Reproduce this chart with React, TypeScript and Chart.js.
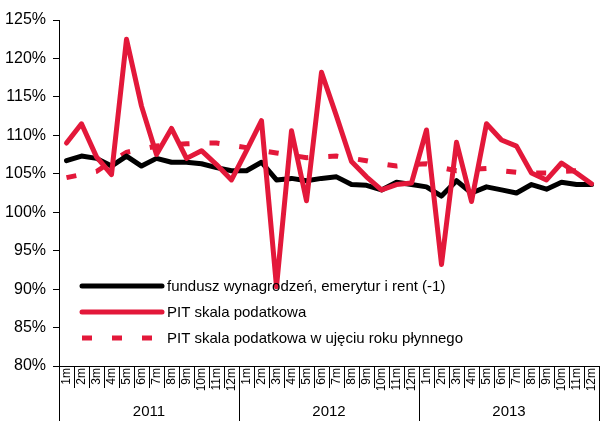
import React, { useEffect, useRef } from 'react';
import { Chart, registerables } from 'chart.js';

Chart.register(...registerables);

const years = ['2011', '2012', '2013'];
const months = ['1m', '2m', '3m', '4m', '5m', '6m', '7m', '8m', '9m', '10m', '11m', '12m'];
const categories = years.flatMap(() => months);

const seriesNames = [
  'fundusz wynagrodzeń, emerytur i rent (-1)',
  'PIT skala podatkowa',
  'PIT skala podatkowa w ujęciu roku płynnego',
];

const fundusz = [
  106.7, 107.3, 107.0, 106.0, 107.3, 106.0, 107.0, 106.5, 106.5, 106.3, 105.8, 105.4,
  105.4, 106.5, 104.2, 104.4, 104.1, 104.4, 104.6, 103.6, 103.5, 102.9, 103.9, 103.6,
  103.3, 102.1, 104.1, 102.5, 103.3, 102.9, 102.5, 103.6, 103.0, 103.9, 103.6, 103.6,
];

const pit = [
  109.0, 111.5, 107.2, 104.9, 122.5, 113.8, 107.5, 110.9, 107.0, 108.0, 106.2, 104.2,
  108.0, 111.9, 90.3, 110.6, 101.5, 118.2, 112.5, 106.6, 104.6, 102.9, 103.6, 103.8,
  110.7, 93.2, 109.1, 101.4, 111.5, 109.4, 108.6, 105.1, 104.2, 106.4, 105.1, 103.7,
];

const pitRolling = [
  104.5, 104.9, 105.3, 106.6, 107.8, 108.2, 108.6, 108.8, 108.9, 109.0, 109.0, 108.7,
  108.4, 108.0, 107.7, 107.4, 107.1, 107.2, 107.3, 107.0, 106.7, 106.3, 106.0, 106.2,
  106.3, 105.8, 105.4, 105.6, 105.7, 105.4, 105.2, 105.1, 105.1, 105.3, 105.4, 104.9,
];

const yMin = 80;
const yMax = 125;
const yStep = 5;

const RED = '#E3183A';
const BLACK = '#000000';
const FONT = "'Liberation Sans', Arial, sans-serif";

const yearAxisPlugin = {
  id: 'yearAxis',
  afterDraw(chart: any) {
    const { ctx, chartArea } = chart;
    const x = chart.scales.x;
    const half = (x.getPixelForValue(1) - x.getPixelForValue(0)) / 2;
    ctx.save();
    ctx.strokeStyle = BLACK;
    ctx.lineWidth = 1;
    ctx.fillStyle = BLACK;
    ctx.font = `15px ${FONT}`;
    ctx.textAlign = 'center';
    ctx.textBaseline = 'middle';
    years.forEach((yr, g) => {
      const start = x.getPixelForValue(g * 12) - half;
      const end = x.getPixelForValue(g * 12 + 11) + half;
      [start, end].forEach((px) => {
        const xx = Math.min(Math.round(px), chart.width - 1) + 0.5;
        ctx.beginPath();
        ctx.moveTo(xx, chartArea.bottom);
        ctx.lineTo(xx, chart.height);
        ctx.stroke();
      });
      ctx.fillText(yr, (start + end) / 2, 412);
    });
    ctx.restore();
  },
};

const legendPlugin = {
  id: 'insideLegend',
  afterDatasetsDraw(chart: any) {
    const { ctx } = chart;
    const rows = [286, 312, 338];
    const x0 = 82;
    const x1 = 162;
    ctx.save();
    chart.data.datasets.forEach((ds: any, i: number) => {
      const yy = rows[i];
      ctx.beginPath();
      ctx.strokeStyle = ds.borderColor;
      ctx.lineWidth = 5;
      ctx.setLineDash(ds.borderDash || []);
      ctx.lineCap = ds.borderDash ? 'butt' : 'round';
      ctx.moveTo(x0, yy);
      ctx.lineTo(x1, yy);
      ctx.stroke();
      ctx.setLineDash([]);
      ctx.fillStyle = BLACK;
      ctx.font = `15px ${FONT}`;
      ctx.textAlign = 'left';
      ctx.textBaseline = 'middle';
      ctx.fillText(ds.label, 167, yy + 1);
    });
    ctx.restore();
  },
};

export default function App() {
  const ref = useRef<HTMLCanvasElement | null>(null);

  useEffect(() => {
    document.body.style.margin = '0';
    const canvas = ref.current;
    if (!canvas) return;
    const chart = new Chart(canvas, {
      type: 'line',
      data: {
        labels: categories,
        datasets: [
          {
            label: seriesNames[0],
            data: fundusz,
            borderColor: BLACK,
            borderWidth: 5,
            borderCapStyle: 'round',
            borderJoinStyle: 'round',
            pointRadius: 0,
            order: 1,
          },
          {
            label: seriesNames[1],
            data: pit,
            borderColor: RED,
            borderWidth: 5,
            borderCapStyle: 'round',
            borderJoinStyle: 'round',
            pointRadius: 0,
            order: 0,
          },
          {
            label: seriesNames[2],
            data: pitRolling,
            borderColor: RED,
            borderWidth: 5,
            borderDash: [10, 20],
            borderCapStyle: 'butt',
            pointRadius: 0,
            order: 2,
          },
        ],
      },
      options: {
        animation: false,
        responsive: false,
        maintainAspectRatio: false,
        layout: { padding: { top: 20, right: 1, left: 0, bottom: 0 } },
        plugins: {
          legend: { display: false },
          tooltip: { enabled: false },
        },
        elements: { line: { tension: 0 }, point: { radius: 0 } },
        scales: {
          x: {
            type: 'category',
            offset: true,
            grid: {
              drawOnChartArea: false,
              offset: true,
              tickLength: 22,
              color: BLACK,
              tickColor: BLACK,
              lineWidth: 1,
            },
            border: { color: BLACK, width: 1 },
            ticks: {
              autoSkip: false,
              maxRotation: 90,
              minRotation: 90,
              padding: -20,
              color: BLACK,
              font: { size: 12, family: FONT },
            },
            afterFit: (s: any) => {
              s.height = 55;
            },
          },
          y: {
            min: yMin,
            max: yMax,
            ticks: {
              stepSize: yStep,
              color: BLACK,
              padding: 7,
              font: { size: 16, family: FONT },
              callback: (v: any) => `${v}%`,
            },
            grid: {
              drawOnChartArea: false,
              tickLength: 6,
              color: BLACK,
              tickColor: BLACK,
            },
            border: { color: BLACK, width: 1 },
            afterFit: (s: any) => {
              s.width = 59;
            },
          },
        },
      },
      plugins: [yearAxisPlugin, legendPlugin],
    } as any);
    return () => chart.destroy();
  }, []);

  return (
    <div style={{ width: 600, height: 421, background: '#fff' }}>
      <canvas ref={ref} width={600} height={421} style={{ display: 'block' }} />
    </div>
  );
}
